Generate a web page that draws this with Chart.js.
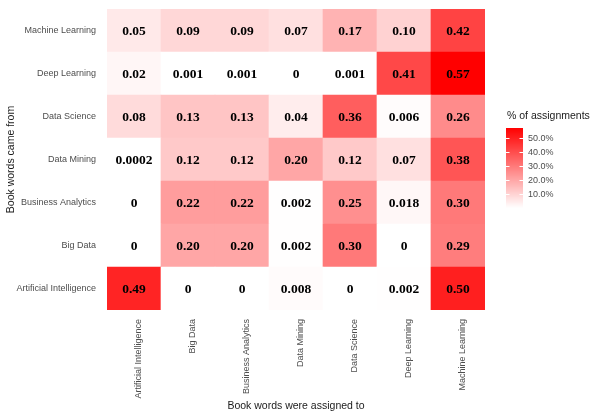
<!DOCTYPE html>
<html>
<head>
<meta charset="utf-8">
<script src="https://cdn.jsdelivr.net/npm/chart.js@4.4.0/dist/chart.umd.min.js"></script>
<style>
  html, body { margin: 0; padding: 0; background: #ffffff; }
  #wrap { width: 602px; height: 417px; position: relative; }
</style>
</head>
<body>
<div id="wrap"><canvas id="heat"></canvas></div>
<script>
// --- Data (rows listed bottom to top, same order as the columns) ---
const topics = ['Artificial Intelligence', 'Big Data', 'Business Analytics', 'Data Mining',
                'Data Science', 'Deep Learning', 'Machine Learning'];

// share of each source topic's words assigned to each target topic
const fromArtificialIntelligence = [0.49, 0, 0, 0.008, 0, 0.002, 0.50];
const fromBigData = [0, 0.20, 0.20, 0.002, 0.30, 0, 0.29];
const fromBusinessAnalytics = [0, 0.22, 0.22, 0.002, 0.25, 0.018, 0.30];
const fromDataMining = [0.0002, 0.12, 0.12, 0.20, 0.12, 0.07, 0.38];
const fromDataScience = [0.08, 0.13, 0.13, 0.04, 0.36, 0.006, 0.26];
const fromDeepLearning = [0.02, 0.001, 0.001, 0, 0.001, 0.41, 0.57];
const fromMachineLearning = [0.05, 0.09, 0.09, 0.07, 0.17, 0.10, 0.42];

const rows = [fromArtificialIntelligence, fromBigData, fromBusinessAnalytics, fromDataMining,
              fromDataScience, fromDeepLearning, fromMachineLearning];

const legendTicks = [0.1, 0.2, 0.3, 0.4, 0.5];

// --- Colour helpers: white -> red ramp ---
const allValues = rows.flat();
const maxValue = Math.max(...allValues);

function fillFor(v) {
    const t = Math.max(0, Math.min(1, v / maxValue));
    const gb = Math.round(255 * (1 - t));
    return `rgb(255, ${gb}, ${gb})`;
}

function cellText(v) {
    if (v === 0) return '0';
    const decimals = String(v).split('.')[1].length;
    return v.toFixed(Math.max(2, decimals));
}

// --- Plugins ---
const cellLabels = {
    id: 'cellLabels',
    afterDatasetsDraw(chart) {
        const { ctx } = chart;
        ctx.save();
        ctx.fillStyle = '#000000';
        ctx.font = "bold 13.5px 'Liberation Serif', 'Times New Roman', serif";
        ctx.textAlign = 'center';
        ctx.textBaseline = 'middle';
        chart.data.datasets.forEach((ds, i) => {
            chart.getDatasetMeta(i).data.forEach((bar, j) => {
                const cy = (bar.y + bar.base) / 2;
                ctx.fillText(cellText(rows[i][j]), bar.x, cy + 1);
            });
        });
        ctx.restore();
    }
};

const colorBar = {
    id: 'colorBar',
    afterDraw(chart) {
        const { ctx, chartArea } = chart;
        const x0 = chartArea.right + 21, w = 17;
        const yTop = 128, yBottom = 208;
        const yFor = v => yBottom - (v / maxValue) * (yBottom - yTop);

        ctx.save();
        ctx.fillStyle = '#1a1a1a';
        ctx.font = "10.5px 'Liberation Sans', Arial, sans-serif";
        ctx.textBaseline = 'middle';
        ctx.fillText('% of assignments', x0 + 1, 116);

        for (let y = yTop; y < yBottom; y++) {
            const v = maxValue * (yBottom - y - 0.5) / (yBottom - yTop);
            ctx.fillStyle = fillFor(v);
            ctx.fillRect(x0, y, w, 1);
        }

        ctx.strokeStyle = '#ffffff';
        ctx.lineWidth = 1;
        ctx.fillStyle = '#4d4d4d';
        ctx.font = "9px 'Liberation Sans', Arial, sans-serif";
        legendTicks.forEach(t => {
            const y = Math.round(yFor(t)) + 0.5;
            ctx.beginPath();
            ctx.moveTo(x0, y); ctx.lineTo(x0 + 3.5, y);
            ctx.moveTo(x0 + w - 3.5, y); ctx.lineTo(x0 + w, y);
            ctx.stroke();
            ctx.fillText((t * 100).toFixed(1) + '%', x0 + 22, y);
        });
        ctx.restore();
    }
};

// --- Build datasets: one floating-bar row per source topic ---
const datasets = rows.map((vals, i) => ({
    label: topics[i],
    data: vals.map(() => [i, i + 1]),
    backgroundColor: vals.map(fillFor),
    borderWidth: 0,
    barPercentage: 1,
    categoryPercentage: 1,
    grouped: false
}));

const tickFont = { family: "'Liberation Sans', Arial, sans-serif", size: 9 };
const titleFont = { family: "'Liberation Sans', Arial, sans-serif", size: 10.5 };

new Chart(document.getElementById('heat'), {
    type: 'bar',
    data: { labels: topics, datasets: datasets },
    options: {
        responsive: true,
        maintainAspectRatio: false,
        animation: false,
        layout: { padding: { top: 9, right: 117, left: 0, bottom: 0 } },
        plugins: {
            legend: { display: false },
            tooltip: { enabled: false }
        },
        scales: {
            x: {
                grid: { display: false, drawTicks: false, tickLength: 0 },
                border: { display: false },
                ticks: {
                    color: '#4d4d4d',
                    font: tickFont,
                    minRotation: 90,
                    maxRotation: 90,
                    autoSkip: false,
                    padding: 9,
                    labelOffset: 5
                },
                title: {
                    display: true,
                    text: 'Book words were assigned to',
                    color: '#1a1a1a',
                    font: titleFont,
                    padding: { top: 0, bottom: 5 }
                },
                afterFit(scale) { scale.height = 107; }
            },
            y: {
                min: 0,
                max: topics.length,
                grid: { display: false, drawTicks: false, tickLength: 0 },
                border: { display: false },
                afterBuildTicks(scale) {
                    scale.ticks = topics.map((t, i) => ({ value: i + 0.5 }));
                },
                ticks: {
                    color: '#4d4d4d',
                    font: tickFont,
                    padding: 11,
                    callback: v => topics[Math.floor(v)]
                },
                title: {
                    display: true,
                    text: 'Book words came from',
                    color: '#1a1a1a',
                    font: titleFont,
                    padding: { top: 5, bottom: 0 }
                },
                afterFit(scale) {
                    scale.width = 107;
                    // labels sit mid-row, so no extra room is needed above or below
                    scale.paddingTop = 0;
                    scale.paddingBottom = 0;
                }
            }
        }
    },
    plugins: [cellLabels, colorBar]
});
</script>
</body>
</html>
